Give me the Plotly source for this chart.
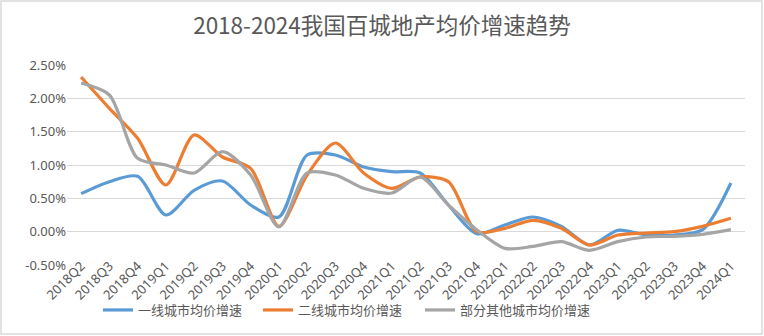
import plotly.graph_objects as go

quarters = ["2018Q2","2018Q3","2018Q4","2019Q1","2019Q2","2019Q3","2019Q4","2020Q1",
            "2020Q2","2020Q3","2020Q4","2021Q1","2021Q2","2021Q3","2021Q4","2022Q1",
            "2022Q2","2022Q3","2022Q4","2023Q1","2023Q2","2023Q3","2023Q4","2024Q1"]
tier1 = [0.57,0.75,0.83,0.25,0.62,0.76,0.40,0.22,1.15,1.15,0.97,0.90,0.88,0.40,-0.03,0.10,
         0.22,0.08,-0.20,0.02,-0.05,-0.05,0.03,0.73]
tier2 = [2.32,1.85,1.40,0.70,1.45,1.12,0.95,0.08,0.85,1.33,0.88,0.65,0.82,0.75,0.00,0.05,
         0.17,0.05,-0.20,-0.05,-0.02,0.00,0.08,0.20]
others = [2.23,2.05,1.10,1.00,0.88,1.20,0.85,0.07,0.88,0.85,0.65,0.58,0.82,0.40,0.03,-0.25,
          -0.22,-0.15,-0.28,-0.15,-0.08,-0.07,-0.04,0.03]
names = ["一线城市均价增速", "二线城市均价增速", "部分其他城市均价增速"]
colors = ["#5B9BD5", "#ED7D31", "#A5A5A5"]
ytick_vals = [-0.5, 0, 0.5, 1.0, 1.5, 2.0, 2.5]

W, H = 764, 336
ml, mr, mt, mb = 67, 19, 65, 71
pw, ph = W - ml - mr, H - mt - mb
legend_ids = ["legend", "legend2", "legend3"]
legend_left_px = [98, 258, 420]

fig = go.Figure()
for name, vals, c, lid in zip(names, [tier1, tier2, others], colors, legend_ids):
    fig.add_trace(go.Scatter(x=quarters, y=vals, name=name, mode="lines", legend=lid,
                             showlegend=True,
                             line=dict(color=c, width=3.2, shape="spline", smoothing=0.8)))

legend_common = dict(orientation="h", xanchor="left", y=-(310 - (mt + ph)) / ph,
                     yanchor="middle", font=dict(size=13, color="#595959",
                                                 family="Noto Sans CJK SC"),
                     bgcolor="rgba(0,0,0,0)", visible=True)
legends = {lid: dict(legend_common, x=(px - ml) / pw) for lid, px in zip(legend_ids, legend_left_px)}

fig.update_layout(
    width=W, height=H, showlegend=True,
    margin=dict(l=ml, r=mr, t=mt, b=mb, autoexpand=False),
    paper_bgcolor="white", plot_bgcolor="white",
    font=dict(family="Noto Sans CJK SC, Noto Sans, sans-serif", color="#595959", size=12),
    title=dict(text="2018-2024我国百城地产均价增速趋势", x=0.5, xanchor="center",
               y=1 - 26 / H, yanchor="middle",
               font=dict(size=22.5, color="#595959", family="Noto Sans CJK SC")),
    xaxis=dict(type="category", range=[-0.5, len(quarters) - 0.5], tickangle=-45,
               showgrid=False, zeroline=False, showline=False, ticks="",
               ticklabelstandoff=-10,
               tickfont=dict(size=13, color="#595959", family="Noto Sans, sans-serif")),
    yaxis=dict(range=[-0.5, 2.5], tickvals=ytick_vals,
               ticktext=[f"{v:.2f}%" for v in ytick_vals],
               showgrid=True, gridcolor="#D9D9D9", gridwidth=1, zeroline=False,
               showline=False, ticks="",
               tickfont=dict(size=13, color="#595959", family="Noto Sans, sans-serif")),
    shapes=[dict(type="rect", xref="paper", yref="paper",
                 x0=(1 - ml) / pw, x1=(W - 2 - ml) / pw,
                 y0=-(H - 2 - mt - ph) / ph, y1=1 + (mt - 1) / ph,
                 line=dict(color="#D9D9D9", width=1.5), layer="below")],
    **legends,
)

fig.write_html("out.html")
